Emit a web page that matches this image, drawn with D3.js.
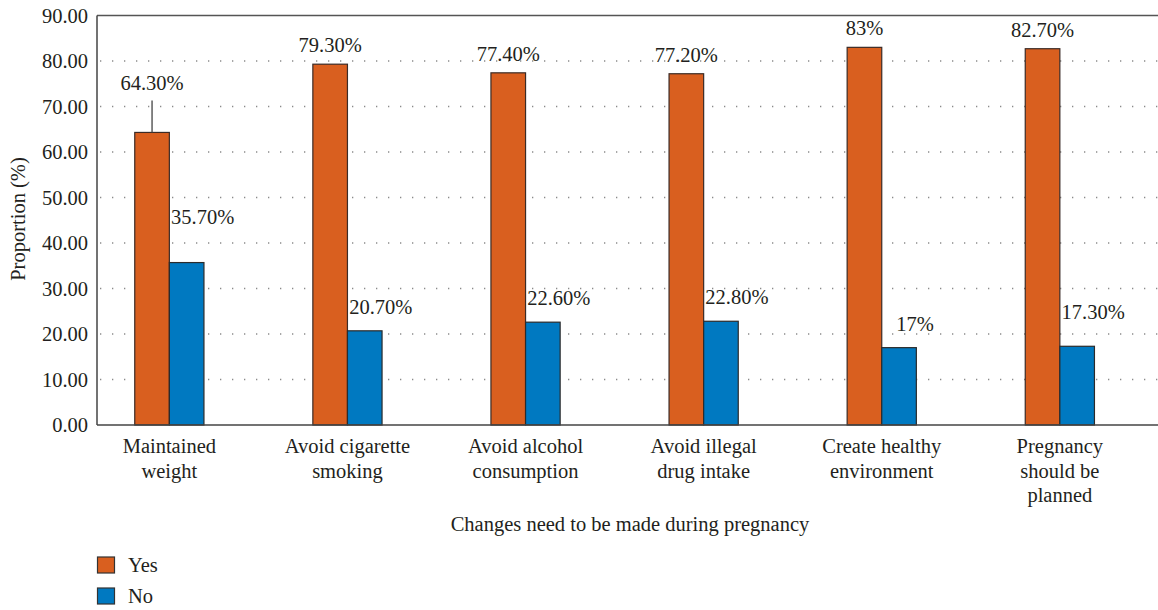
<!DOCTYPE html>
<html><head><meta charset="utf-8">
<script src="https://cdn.jsdelivr.net/npm/d3@7"></script>
<style>
body{margin:0;background:#fff;}
svg text{font-family:'Liberation Serif' !important;}
</style></head>
<body><svg id="c" width="1158" height="610" style="font-family:'Liberation Serif'"></svg>
<script>
const categories = [["Maintained","weight"],["Avoid cigarette","smoking"],["Avoid alcohol","consumption"],["Avoid illegal","drug intake"],["Create healthy","environment"],["Pregnancy","should be","planned"]];
const yesValues = [64.3, 79.3, 77.4, 77.2, 83, 82.7];
const noValues = [35.7, 20.7, 22.6, 22.8, 17, 17.3];
const yesLabels = ["64.30%","79.30%","77.40%","77.20%","83%","82.70%"];
const noLabels = ["35.70%","20.70%","22.60%","22.80%","17%","17.30%"];
const yTicks = [0,10,20,30,40,50,60,70,80,90];
const seriesNames = ["Yes","No"];
// layout-only nudges for labels (pixels)
const yesLabelRaise = [30,0,0,0,0,0];
const noLabelRaise = [22,0,0,0,0,10];

const colors = {Yes:"#d95f1f", No:"#0079c1"};
const svg = d3.select("#c");
const pLeft = 97, pRight = 1158, pTop = 15.5, pBottom = 425;
const y = d3.scaleLinear().domain([0,90]).range([pBottom, pTop]);
const x = d3.scaleBand().domain(categories.map((d,i)=>i)).range([80.3, 1148.9]).padding(0);
const bw = 34.6;
const fs = 20.5;
function T(sel){ return sel.attr("font-family","Liberation Serif").style("font-family", "'Liberation Serif'").attr("font-size", fs).attr("fill","#231f20"); }

svg.append("g").selectAll("line").data(yTicks.filter(t=>t>0 && t<90)).join("line")
  .attr("x1", pLeft+3).attr("x2", pRight).attr("y1", d=>y(d)).attr("y2", d=>y(d))
  .attr("stroke","#8a8a8a").attr("stroke-width",1.3).attr("stroke-dasharray","1.3,10.7");

T(svg.append("g").selectAll("text").data(yTicks).join("text")
  .attr("x", 88).attr("y", d=>y(d)+7).attr("text-anchor","end")
  .text(d=>d.toFixed(2)));

const bars = svg.append("g");
categories.forEach((c,i)=>{
  const cx = x(i) + x.bandwidth()/2;
  bars.append("rect").attr("x", cx-bw).attr("y", y(yesValues[i])).attr("width", bw).attr("height", y(0)-y(yesValues[i]))
    .attr("fill", colors.Yes).attr("stroke","#3b2b26").attr("stroke-width",1.2);
  bars.append("rect").attr("x", cx).attr("y", y(noValues[i])).attr("width", bw).attr("height", y(0)-y(noValues[i]))
    .attr("fill", colors.No).attr("stroke","#2b2b2b").attr("stroke-width",1.2);
  const yb = y(yesValues[i]) - 12 - yesLabelRaise[i];
  T(svg.append("text").attr("x", cx-bw/2).attr("y", yb).attr("text-anchor","middle").text(yesLabels[i]));
  if (yesLabelRaise[i] > 0) {
    svg.append("line").attr("x1", cx-bw/2).attr("x2", cx-bw/2).attr("y1", yb+10).attr("y2", y(yesValues[i]))
      .attr("stroke","#444").attr("stroke-width",1.3);
  }
  const nb = y(noValues[i]) - 17 - noLabelRaise[i];
  T(svg.append("text").attr("x", cx+bw/2+16).attr("y", nb).attr("text-anchor","middle").text(noLabels[i]));
  c.forEach((line,j)=>{
    T(svg.append("text").attr("x", cx).attr("y", 453 + j*24.5).attr("text-anchor","middle").text(line));
  });
});

svg.append("line").attr("x1",pLeft).attr("x2",pRight).attr("y1",pTop).attr("y2",pTop).attr("stroke","#555").attr("stroke-width",1.5);
svg.append("line").attr("x1",pLeft).attr("x2",pRight).attr("y1",pBottom).attr("y2",pBottom).attr("stroke","#444").attr("stroke-width",1.5);
svg.append("line").attr("x1",pLeft).attr("x2",pLeft).attr("y1",pTop).attr("y2",pBottom).attr("stroke","#444").attr("stroke-width",1.5);

T(svg.append("text").attr("transform","translate(25,219) rotate(-90)").attr("text-anchor","middle").text("Proportion (%)"));
T(svg.append("text").attr("x",630).attr("y",531).attr("text-anchor","middle").text("Changes need to be made during pregnancy"));

const lg = svg.append("g");
seriesNames.forEach((s,i)=>{
  lg.append("rect").attr("x",97.5).attr("y",557+i*31).attr("width",17).attr("height",16)
    .attr("fill",colors[s]).attr("stroke","#333").attr("stroke-width",1.2);
  T(lg.append("text").attr("x",128).attr("y",572+i*31).text(s));
});
</script></body></html>
